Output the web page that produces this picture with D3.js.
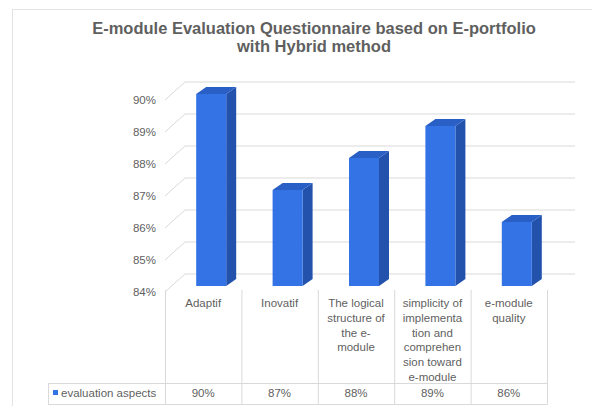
<!DOCTYPE html>
<html>
<head>
<meta charset="utf-8">
<script src="https://cdn.jsdelivr.net/npm/d3@7"></script>
<style>
  html, body { margin: 0; padding: 0; background: #ffffff; }
  svg { display: block; font-family: "Liberation Sans", Arial, sans-serif; }
</style>
</head>
<body>
<svg id="chart" width="592" height="406"></svg>
<script>
// ---- data ----
const categories = ["Adaptif", "Inovatif", "The logical structure of the e-module",
  "simplicity of implementation and comprehension toward e-module", "e-module quality"];
const categoryLines = [
  ["Adaptif"],
  ["Inovatif"],
  ["The logical", "structure of", "the e-", "module"],
  ["simplicity of", "implementa", "tion and", "comprehen", "sion toward", "e-module"],
  ["e-module", "quality"]
];
const values = [90, 87, 88, 89, 86];
const seriesName = "evaluation aspects";
const tickValues = [84, 85, 86, 87, 88, 89, 90];
const titleLines = ["E-module Evaluation Questionnaire based on E-portfolio", "with Hybrid method"];

// ---- layout ----
const svg = d3.select("#chart");
const textColor = "#5f5f5f";
const gridColor = "#d9d9d9";
const plotLeft = 165, plotRight = 547;
const depthX = 20, depthY = 18;     // wall depth
const barDX = 10, barDY = 7;        // bar depth
const smallFont = 11.5;

// outer frame
svg.append("rect").attr("x", 12.5).attr("y", 9.5).attr("width", 600).attr("height", 420)
  .attr("fill", "none").attr("stroke", "#e3e3e3");

// title
svg.append("text").attr("x", 314).attr("y", 34).attr("text-anchor", "middle")
  .attr("font-size", 16.5).attr("font-weight", "bold").attr("fill", textColor)
  .selectAll("tspan").data(titleLines).join("tspan")
  .attr("x", 314).attr("dy", (d, i) => i === 0 ? 0 : 18).text(d => d);

const x = d3.scaleBand().domain(categories).range([plotLeft, plotRight]).padding(0);
const yFront = d3.scaleLinear().domain([84, 90]).range([292, 100]);
const yBack = v => yFront(v) - depthY;
const yBar = d3.scaleLinear().domain([84, 90]).range([286, 94]);

// gridlines: side-wall diagonal + back wall
const grid = svg.append("g");
tickValues.forEach(t => {
  grid.append("line").attr("x1", plotLeft).attr("y1", yFront(t))
    .attr("x2", plotLeft + depthX).attr("y2", yBack(t))
    .attr("stroke", gridColor).attr("stroke-width", 1);
  grid.append("line").attr("x1", plotLeft + depthX).attr("y1", yBack(t))
    .attr("x2", 575).attr("y2", yBack(t))
    .attr("stroke", gridColor).attr("stroke-width", 1);
});

// y axis labels via d3 axis
const yAxis = d3.axisLeft(yFront).tickValues(tickValues).tickFormat(d => d + "%").tickSize(0).tickPadding(0);
const yg = svg.append("g").attr("transform", "translate(156,0)").call(yAxis);
yg.select(".domain").remove();
yg.selectAll("text").attr("font-size", smallFont).attr("fill", textColor)
  .attr("font-family", "Liberation Sans, Arial, sans-serif");

// bars
const barW = 30;
const bars = svg.append("g");
categories.forEach((c, i) => {
  const v = values[i];
  const x0 = x(c) + x.bandwidth() / 2 - barW / 2 + 8;
  const x1 = x0 + barW;
  const yt = yBar(v), yb = yBar(84);
  // side
  bars.append("path")
    .attr("d", `M${x1},${yt} L${x1 + barDX},${yt - barDY} L${x1 + barDX},${yb - barDY} L${x1},${yb} Z`)
    .attr("fill", "#2352ad");
  // top
  bars.append("path")
    .attr("d", `M${x0},${yt} L${x0 + barDX},${yt - barDY} L${x1 + barDX},${yt - barDY} L${x1},${yt} Z`)
    .attr("fill", "#2a5fc6");
  // front
  bars.append("rect").attr("x", x0).attr("y", yt).attr("width", barW).attr("height", yb - yt)
    .attr("fill", "#3373e6");
});

// data table
const table = svg.append("g");
const tableTop = 290, rowTop = 383, rowBottom = 404, legendLeft = 48;
const edges = categories.map(c => x(c)).concat([plotRight]);
edges.forEach(e => {
  table.append("line").attr("x1", e + 0.5).attr("x2", e + 0.5).attr("y1", tableTop).attr("y2", rowBottom)
    .attr("stroke", gridColor);
});
table.append("line").attr("x1", legendLeft).attr("x2", plotRight + 0.5).attr("y1", rowTop + 0.5).attr("y2", rowTop + 0.5)
  .attr("stroke", gridColor);
table.append("line").attr("x1", legendLeft).attr("x2", plotRight + 0.5).attr("y1", rowBottom + 0.5).attr("y2", rowBottom + 0.5)
  .attr("stroke", gridColor);
table.append("line").attr("x1", legendLeft + 0.5).attr("x2", legendLeft + 0.5).attr("y1", rowTop).attr("y2", rowBottom)
  .attr("stroke", gridColor);

// category labels
categories.forEach((c, i) => {
  const cx = x(c) + x.bandwidth() / 2;
  table.append("text").attr("text-anchor", "middle").attr("font-size", smallFont).attr("fill", textColor)
    .selectAll("tspan").data(categoryLines[i]).join("tspan")
    .attr("x", cx).attr("y", (d, j) => 307 + j * 14.8).text(d => d);
  table.append("text").attr("x", cx).attr("y", 397).attr("text-anchor", "middle")
    .attr("font-size", smallFont).attr("fill", textColor).text(values[i] + "%");
});

// legend key
table.append("rect").attr("x", 53).attr("y", 390).attr("width", 5).attr("height", 5).attr("fill", "#3373e6");
table.append("text").attr("x", 61).attr("y", 397).attr("font-size", smallFont).attr("fill", textColor).text(seriesName);
</script>
</body>
</html>
